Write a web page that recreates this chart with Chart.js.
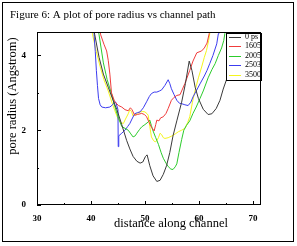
<!DOCTYPE html>
<html>
<head>
<meta charset="utf-8">
<script src="https://cdn.jsdelivr.net/npm/chart.js@4/dist/chart.umd.min.js"></script>
<style>
html,body{margin:0;padding:0;background:#fff;}
canvas{display:block;}
</style>
</head>
<body>
<canvas id="c" width="297" height="246" style="width:297px;height:246px"></canvas>
<script>
// ---- data ----
const seriesNames = ["0 ps", "1605", "2005", "2503", "3500"];
const seriesColors = ["#3a3a3a", "#f03c3c", "#2ccc2c", "#3c3cf0", "#f5f51e"];

const dist0ps   = [40.4,40.7,41.5,42.3,43.2,44.1,44.8,45.7,46.6,47.2,47.8,48.5,49.1,49.6,50.1,50.4,50.9,51.5,52.2,52.8,53.4,54.0,54.6,55.2,55.9,56.8,57.5,58.2,58.7,59.3,59.9,60.8,61.7,62.4,63.2,63.9,64.5,65.1,65.8,66.5];
const radius0ps = [4.8,4.55,3.95,3.5,3.15,2.8,2.55,2.15,1.73,1.5,1.3,1.17,1.12,1.15,1.3,1.34,1.05,0.78,0.63,0.66,0.82,1.05,1.4,1.85,2.25,2.75,3.25,3.85,3.6,3.15,2.85,2.56,2.42,2.44,2.58,2.8,3.1,3.35,3.9,4.5];

const dist1605   = [41.5,41.8,42.4,42.9,43.2,43.5,43.8,44.4,45.1,45.7,46.3,46.9,47.3,47.6,48.1,48.6,49.4,49.9,50.3,50.8,51.2,51.7,52.0,52.2,52.6,52.9,53.4,53.9,54.3,54.9,55.4,55.9,56.5,57.4,58.3,58.9,59.6,60.5,61.0,61.5,61.9,62.1];
const radius1605 = [4.8,4.55,4.3,4.12,3.87,3.5,3.0,2.76,2.66,2.62,2.55,2.52,2.6,2.55,2.4,2.42,2.45,2.42,2.36,2.2,2.08,1.98,2.15,2.27,2.25,2.33,2.36,2.45,2.58,2.8,2.88,2.93,2.95,3.25,3.6,3.85,4.07,4.12,4.2,4.33,4.58,4.8];

const dist2005   = [41.2,41.5,42.3,43.0,43.8,44.3,44.8,45.3,45.7,46.3,46.9,47.4,47.8,48.2,48.5,49.0,49.4,50.0,50.6,50.9,51.2,51.5,52.0,52.5,53.0,53.4,53.9,54.3,54.8,55.2,55.6,55.9,56.3,56.8,57.2,57.7,58.3,58.9,59.5,60.2,60.8,61.7,62.4,63.0,63.6,64.2,64.6,64.8,64.9];
const radius2005 = [4.8,4.55,3.8,3.35,2.98,2.7,2.45,2.25,2.1,2.05,2.0,1.9,1.82,1.85,1.92,2.02,2.09,2.15,2.22,2.27,2.12,1.98,1.8,1.62,1.4,1.25,1.12,1.03,0.96,0.95,1.02,1.1,1.4,1.75,2.0,2.13,2.25,2.45,2.62,2.85,3.05,3.4,3.62,3.78,4.0,4.2,4.4,4.58,4.8];

const dist2503   = [40.5,40.6,40.8,41.0,41.2,41.4,41.7,42.0,42.7,43.5,44.0,44.4,44.6,45.0,45.05,45.15,45.7,46.3,46.8,47.2,47.6,48.1,48.6,49.1,49.7,50.3,50.8,51.2,51.7,52.2,52.7,53.1,53.7,54.3,54.6,54.9,55.4,55.9,56.4,56.8,57.4,58.0,58.5,58.9,59.5,60.2,61.0,61.5,62.0,62.6,63.3,63.6,63.7];
const radius2503 = [4.8,4.5,4.1,3.6,3.2,2.85,2.68,2.62,2.6,2.62,2.68,2.76,2.75,2.55,1.56,1.85,1.92,2.0,2.1,2.18,2.3,2.44,2.47,2.49,2.6,2.76,2.9,2.98,3.02,3.02,3.05,3.08,3.2,3.35,3.25,3.11,2.95,2.8,2.72,2.71,2.68,2.66,2.75,2.89,3.05,3.24,3.45,3.6,3.78,4.0,4.31,4.58,4.8];

const dist3500   = [40.1,40.3,41.0,41.7,42.4,43.2,43.8,44.4,45.1,45.6,46.0,46.4,46.9,47.2,47.5,47.8,48.1,48.6,49.1,49.6,50.0,50.4,50.6,50.9,51.2,51.6,51.9,52.2,52.5,52.8,53.1,53.4,53.7,54.3,54.9,55.6,56.2,56.8,57.4,57.9,58.3,58.8,59.3,59.9,60.5,61.0,61.4,61.8,62.0,62.1];
const radius3500 = [4.8,4.55,4.1,3.7,3.35,3.05,2.78,2.53,2.27,2.2,2.18,2.3,2.44,2.55,2.5,2.38,2.4,2.45,2.49,2.5,2.49,2.44,2.4,2.1,1.82,1.72,1.69,1.72,1.8,1.92,1.88,1.8,1.78,1.8,1.84,1.9,1.96,2.0,2.05,2.2,2.36,2.75,3.07,3.4,3.69,3.95,4.13,4.4,4.58,4.8];

const xTickValues = [30, 40, 50, 60, 70];
const yTickValues = [0, 2, 4];
const xMinorValues = [35, 45, 55, 65];
const yMinorValues = [1, 3];

const figureTitle = "Figure 6: A plot of pore radius vs channel path";
const xTitle = "distance along channel";
const yTitle = "pore radius (Angstrom)";

// ---- build datasets ----
const allDist = [dist0ps, dist1605, dist2005, dist2503, dist3500];
const allRad  = [radius0ps, radius1605, radius2005, radius2503, radius3500];
const datasets = seriesNames.map((name, i) => ({
  label: name,
  data: allDist[i].map((d, j) => ({x: d, y: allRad[i][j]})),
  borderColor: seriesColors[i],
  backgroundColor: seriesColors[i],
  borderWidth: 1,
  pointRadius: 0,
  fill: false,
  tension: 0
}));

const SERIF = "'Liberation Serif', 'Times New Roman', serif";

const decor = {
  id: 'decor',
  beforeDraw(chart) {
    const c = chart.ctx;
    c.save();
    c.fillStyle = '#fff';
    c.fillRect(0, 0, chart.width, chart.height);
    c.strokeStyle = '#000';
    c.lineWidth = 1;
    c.strokeRect(2.5, 2.5, 291, 239);
    c.restore();
  },
  afterDatasetsDraw(chart) {
    const c = chart.ctx;
    const a = chart.chartArea;
    const xs = chart.scales.x, ys = chart.scales.y;
    c.save();
    // legend box (drawn over the curves)
    const lx = a.right - 35, ly = a.top, lw = 35, lh = 47;
    c.fillStyle = '#fff';
    c.fillRect(lx, ly, lw, lh);
    c.strokeStyle = '#000';
    c.lineWidth = 1;
    c.strokeRect(Math.round(lx) + 0.5, Math.round(ly) + 0.5, lw, lh);
    c.font = "8px " + SERIF;
    c.textBaseline = 'middle';
    c.textAlign = 'left';
    seriesNames.forEach((n, i) => {
      const yy = ly + 3.5 + i * 9.5;
      c.strokeStyle = seriesColors[i];
      c.beginPath();
      c.moveTo(lx + 3, Math.round(yy) + 0.5);
      c.lineTo(lx + 15, Math.round(yy) + 0.5);
      c.stroke();
      c.fillStyle = '#000';
      c.fillText(n, lx + 19, yy);
    });
    // plot frame
    c.strokeStyle = '#000';
    c.lineWidth = 1;
    c.strokeRect(Math.round(a.left) + 0.5, Math.round(a.top) - 0.5, Math.round(a.right - a.left) - 1, Math.round(a.bottom - a.top));
    // inner ticks
    c.beginPath();
    xTickValues.forEach(v => { const p = Math.round(xs.getPixelForValue(v)) + 0.5; c.moveTo(p, a.bottom); c.lineTo(p, a.bottom - 4); });
    xMinorValues.forEach(v => { const p = Math.round(xs.getPixelForValue(v)) + 0.5; c.moveTo(p, a.bottom); c.lineTo(p, a.bottom - 2); });
    yTickValues.forEach(v => { const p = Math.round(ys.getPixelForValue(v)) + 0.5; c.moveTo(a.left, p); c.lineTo(a.left + 4, p); });
    yMinorValues.forEach(v => { const p = Math.round(ys.getPixelForValue(v)) + 0.5; c.moveTo(a.left, p); c.lineTo(a.left + 2, p); });
    c.stroke();
    // titles
    c.fillStyle = '#000';
    c.font = "11px " + SERIF;
    c.textAlign = 'left';
    c.textBaseline = 'alphabetic';
    c.fillText(figureTitle, 10, 18);
    c.font = "12.5px " + SERIF;
    c.textAlign = 'center';
    c.textBaseline = 'middle';
    c.fillText(xTitle, 171, 224);
    c.translate(13, 96);
    c.rotate(-Math.PI / 2);
    c.fillText(yTitle, 0, 0);
    c.restore();
  }
};

new Chart(document.getElementById('c'), {
  type: 'line',
  data: { datasets },
  options: {
    responsive: false,
    animation: false,
    devicePixelRatio: 1,
    layout: { padding: { left: 0, right: 36, top: 33, bottom: 0 } },
    plugins: { legend: { display: false }, title: { display: false }, tooltip: { enabled: false } },
    scales: {
      x: {
        type: 'linear', min: 30, max: 71.5,
        afterFit(s) { s.height = 41; },
        afterBuildTicks(s) { s.ticks = xTickValues.map(v => ({ value: v })); },
        ticks: { font: { family: SERIF, size: 9, weight: 'bold' }, color: '#000', padding: 0, maxRotation: 0, autoSkip: false },
        grid: { display: false },
        border: { display: false }
      },
      y: {
        type: 'linear', min: 0, max: 4.6,
        afterFit(s) { s.width = 37; },
        afterBuildTicks(s) { s.ticks = yTickValues.map(v => ({ value: v })); },
        ticks: { font: { family: SERIF, size: 9, weight: 'bold' }, color: '#000', padding: 3, autoSkip: false },
        grid: { display: false },
        border: { display: false }
      }
    }
  },
  plugins: [decor]
});
</script>
</body>
</html>
